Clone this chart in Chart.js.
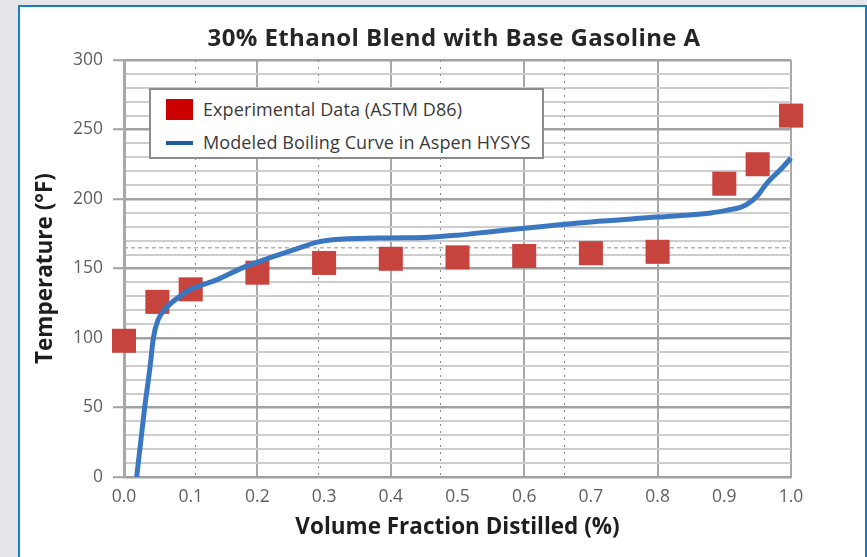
<!DOCTYPE html>
<html>
<head>
<meta charset="utf-8">
<script src="https://cdn.jsdelivr.net/npm/chart.js@4.4.1/dist/chart.umd.min.js"></script>
<style>
  html, body { margin: 0; padding: 0; width: 867px; height: 557px; overflow: hidden; background: #e4e6e9; }
  #panel { position: absolute; left: 18px; top: 5px; width: 845px; height: 560px; background: #fff;
           border-left: 2px solid #1a7ccc; border-top: 2px solid #1a7ccc; border-right: 2px solid #1a7ccc; }
  #chart { position: absolute; left: 20px; top: 7px; }
  #title { position: absolute; left: 0; width: 908px; top: 21px; text-align: center; letter-spacing: 0.4px;
           font-family: "Open Sans", sans-serif; font-weight: 700; font-size: 24px; line-height: 32px; color: #262626; }
  #legend { position: absolute; left: 149px; top: 88px; width: 391px; height: 67px; background: #fff;
            border: 2px solid #8c8c8c; font-family: "Open Sans", sans-serif; font-size: 18px; letter-spacing: 0.1px; color: #3a3a3a; }
  .item { position: absolute; left: 15px; height: 26px; line-height: 26px; }
  .sw { position: absolute; left: 0; }
  .txt { position: absolute; left: 37px; white-space: nowrap; }
</style>
</head>
<body>
<div id="panel"></div>
<canvas id="chart" width="845" height="550"></canvas>
<div id="title">30% Ethanol Blend with Base Gasoline A</div>
<div id="legend">
  <div class="item" style="top:6px"><span class="sw" style="top:3px;width:27px;height:21px;background:#cc0000"></span><span class="txt" id="lg0"></span></div>
  <div class="item" style="top:39px"><span class="sw" style="top:12px;width:27px;height:4px;background:#1f5c9c"></span><span class="txt" id="lg1"></span></div>
</div>
<script>
// ---- data ----
const seriesNames = ["Experimental Data (ASTM D86)", "Modeled Boiling Curve in Aspen HYSYS"];
const expX = [0.0, 0.05, 0.1, 0.2, 0.3, 0.4, 0.5, 0.6, 0.7, 0.8, 0.9, 0.95, 1.0];
const expY = [98, 126, 135, 147, 154, 157, 158, 159, 161, 162, 211, 225, 260];
const modelX = [0.019, 0.025, 0.031, 0.039, 0.044, 0.051, 0.064, 0.084, 0.10, 0.14, 0.18, 0.22, 0.264, 0.29, 0.324, 0.40, 0.45, 0.50, 0.55, 0.60, 0.70, 0.80, 0.88, 0.905, 0.924, 0.935, 0.95, 0.964, 0.984, 1.0];
const modelY = [0, 25, 50, 79, 100, 113, 122, 130, 135, 142, 151, 158, 165, 169, 171, 172, 172.3, 174, 176.5, 179, 183.5, 187, 190, 192, 194, 196.5, 202.5, 211.5, 221, 229.5];
const xTickLabels = ["0.0", "0.1", "0.2", "0.3", "0.4", "0.5", "0.6", "0.7", "0.8", "0.9", "1.0"];
const yTickLabels = [0, 50, 100, 150, 200, 250, 300];
const overlayGridX = [0.107, 0.291, 0.475, 0.66];
const overlayGridY = [165];
const xTitle = "Volume Fraction Distilled (%)";
const yTitle = "Temperature (°F)";

document.getElementById('lg0').textContent = seriesNames[0];
document.getElementById('lg1').textContent = seriesNames[1];

const toXY = (xs, ys) => xs.map((x, i) => ({ x: x, y: ys[i] }));

new Chart(document.getElementById('chart'), {
  type: 'scatter',
  data: {
    datasets: [
      {
        label: seriesNames[1],
        data: toXY(modelX, modelY),
        showLine: true,
        borderColor: '#3b77c0',
        backgroundColor: '#3b77c0',
        borderWidth: 5,
        pointRadius: 0,
        cubicInterpolationMode: 'monotone',
        clip: false,
        order: 0
      },
      {
        label: seriesNames[0],
        data: toXY(expX, expY),
        pointStyle: 'rect',
        pointRadius: 17,
        pointBorderWidth: 0,
        backgroundColor: '#c7433e',
        borderColor: '#c7433e',
        clip: false,
        order: 1
      }
    ]
  },
  options: {
    responsive: false,
    animation: false,
    devicePixelRatio: 1,
    layout: { padding: { left: 0, top: 53, right: 74, bottom: 0 } },
    plugins: { legend: { display: false }, tooltip: { enabled: false }, title: { display: false } },
    scales: {
      x: {
        type: 'linear', position: 'bottom', min: 0, max: 1,
        afterFit: s => { s.height = 80; },
        afterBuildTicks: s => { s.ticks = xTickLabels.map(t => ({ value: parseFloat(t) })); },
        ticks: {
          callback: (v, i) => xTickLabels[i],
          color: '#5f5f5f', padding: 10, maxRotation: 0, autoSkip: false,
          font: { family: 'Open Sans', size: 17.5 }
        },
        grid: {
          drawTicks: false,
          color: ctx => (ctx.index % 2 === 0 ? '#a8a8a8' : 'rgba(0,0,0,0)'),
          lineWidth: 2
        },
        border: { display: true, color: '#a0a0a0', width: 2 },
        title: {
          display: true, text: xTitle, color: '#1e1e1e',
          font: { family: 'Open Sans', size: 22.5, weight: 'bold' },
          padding: { top: 0, bottom: 16 }
        }
      },
      y: {
        type: 'linear', position: 'left', min: 0, max: 300,
        afterFit: s => { s.width = 104; },
        ticks: {
          stepSize: 10, autoSkip: false,
          callback: v => (yTickLabels.includes(v) ? String(v) : ''),
          color: '#5f5f5f', padding: 10,
          font: { family: 'Open Sans', size: 17.5 }
        },
        grid: {
          tickLength: 11,
          tickColor: ctx => (ctx.tick && yTickLabels.includes(ctx.tick.value) ? '#a0a0a0' : 'rgba(0,0,0,0)'),
          tickWidth: 2,
          color: ctx => (ctx.tick && yTickLabels.includes(ctx.tick.value) ? '#a2a2a2' : '#cdcdcd'),
          lineWidth: ctx => (ctx.tick && yTickLabels.includes(ctx.tick.value) ? 2.5 : 2)
        },
        border: { display: true, color: '#a8a8a8', width: 3 },
        title: {
          display: true, text: yTitle, color: '#1e1e1e',
          font: { family: 'Open Sans', size: 22.5, weight: 'bold' },
          padding: { top: 12, bottom: 0 }
        }
      },
      xo: {
        type: 'linear', position: 'bottom', min: 0, max: 1,
        afterFit: s => { s.height = 0; },
        afterBuildTicks: s => { s.ticks = overlayGridX.map(v => ({ value: v })); },
        ticks: { display: false },
        grid: { drawTicks: false, color: '#8a8a8a', lineWidth: 1 },
        border: { display: false, dash: [2, 5] }
      },
      yo: {
        type: 'linear', position: 'right', min: 0, max: 300,
        afterFit: s => { s.width = 0; },
        afterBuildTicks: s => { s.ticks = overlayGridY.map(v => ({ value: v })); },
        ticks: { display: false },
        grid: { drawTicks: false, color: '#b4b4b4', lineWidth: 1.5 },
        border: { display: false, dash: [4, 3] }
      }
    }
  }
});
</script>
</body>
</html>
